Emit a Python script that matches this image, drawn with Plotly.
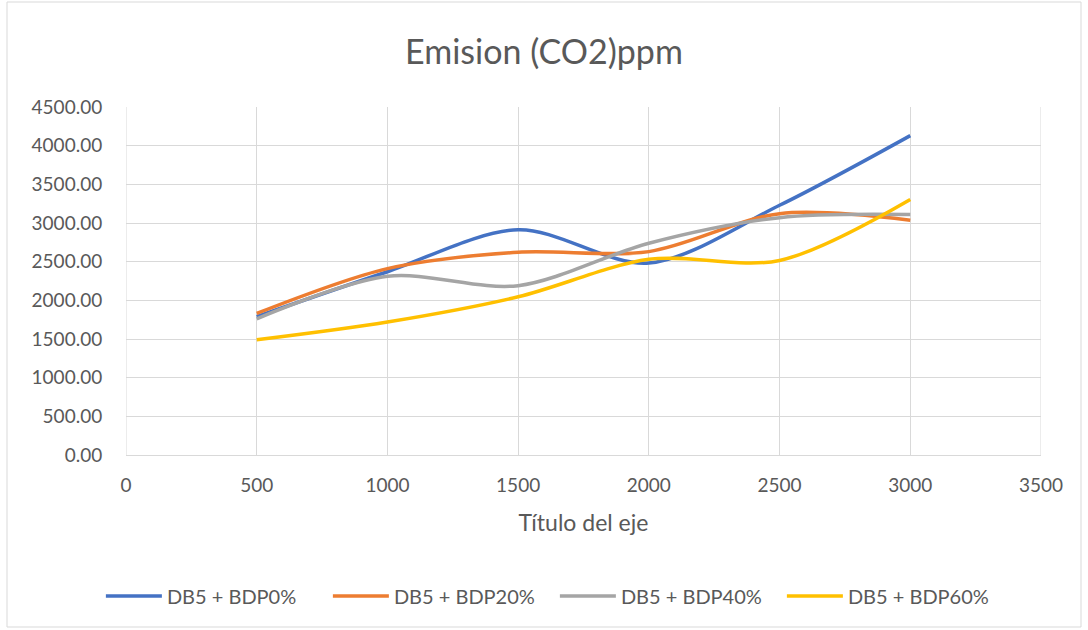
import plotly.graph_objects as go

# Engine load (x) and CO2 emission readings for each blend
x_vals = [500, 1000, 1500, 2000, 2500, 3000]
series_names = ["DB5 + BDP0%", "DB5 + BDP20%", "DB5 + BDP40%", "DB5 + BDP60%"]
bdp0 = [1790, 2370, 2913, 2482, 3229, 4130]
bdp20 = [1830, 2410, 2621, 2630, 3121, 3035]
bdp40 = [1760, 2310, 2190, 2738, 3069, 3109]
bdp60 = [1490, 1720, 2046, 2530, 2516, 3305]
colors = ["#4472C4", "#ED7D31", "#A5A5A5", "#FFC000"]

x_ticks = [0, 500, 1000, 1500, 2000, 2500, 3000, 3500]
y_ticks = [0, 500, 1000, 1500, 2000, 2500, 3000, 3500, 4000, 4500]

FONT = "Lato, 'Open Sans', sans-serif"
TEXT = "#595959"
GRID = "#D9D9D9"

fig = go.Figure()
for name, ys, col in zip(series_names, [bdp0, bdp20, bdp40, bdp60], colors):
    fig.add_trace(go.Scatter(
        x=x_vals, y=ys, name=name, mode="lines",
        line=dict(color=col, width=3.5, shape="spline", smoothing=0.9),
    ))

# plot area in pixels: x 126..1041, y 107..455
L, R, T, B = 126, 47, 107, 175
W, H = 1088, 630
pw, ph = W - L - R, H - T - B


def px_x(p):
    return (p - L) / pw


def px_y(p):
    return (H - B - p) / ph


# outer chart border
fig.add_shape(type="rect", xref="paper", yref="paper",
              x0=px_x(7), x1=px_x(1081), y0=px_y(627), y1=px_y(2),
              line=dict(color=GRID, width=1), fillcolor="rgba(0,0,0,0)", layer="below")

fig.update_layout(
    width=W, height=H,
    margin=dict(l=L, r=R, t=T, b=B),
    paper_bgcolor="white", plot_bgcolor="white",
    font=dict(family=FONT, color=TEXT, size=19),
    title=dict(text="Emision (CO2)ppm", x=0.5, xanchor="center", xref="container",
               y=1 - 52 / H, yanchor="middle",
               font=dict(size=34, color=TEXT, family=FONT)),
    xaxis=dict(range=[0, 3500], tickvals=x_ticks, ticktext=[str(v) for v in x_ticks],
               showgrid=True, gridcolor=GRID, gridwidth=1,
               showline=True, linecolor=GRID, linewidth=1, mirror=False,
               zeroline=False, ticks="outside", ticklen=13, tickcolor="rgba(0,0,0,0)",
               tickfont=dict(size=19, color=TEXT),
               title=dict(text="Título del eje", font=dict(size=23, color=TEXT), standoff=20)),
    yaxis=dict(range=[0, 4500], tickvals=y_ticks, ticktext=[f"{v:.2f}" for v in y_ticks],
               showgrid=True, gridcolor=GRID, gridwidth=1,
               showline=False, zeroline=False,
               ticks="outside", ticklen=19, tickcolor="rgba(0,0,0,0)",
               tickfont=dict(size=19, color=TEXT)),
    legend=dict(orientation="h", xref="container", x=0.51, xanchor="center",
                yref="container", y=1 - 596 / H, yanchor="middle",
                bgcolor="rgba(0,0,0,0)",
                font=dict(size=20, color=TEXT), itemwidth=56,
                entrywidth=156, traceorder="normal"),
    showlegend=True,
)

# vertical boundary gridlines at both ends of x range
for xv in [0, 3500]:
    fig.add_shape(type="line", xref="x", yref="paper", x0=xv, x1=xv, y0=0, y1=1,
                  line=dict(color=GRID, width=1), layer="below")

fig.write_html("out.html")
